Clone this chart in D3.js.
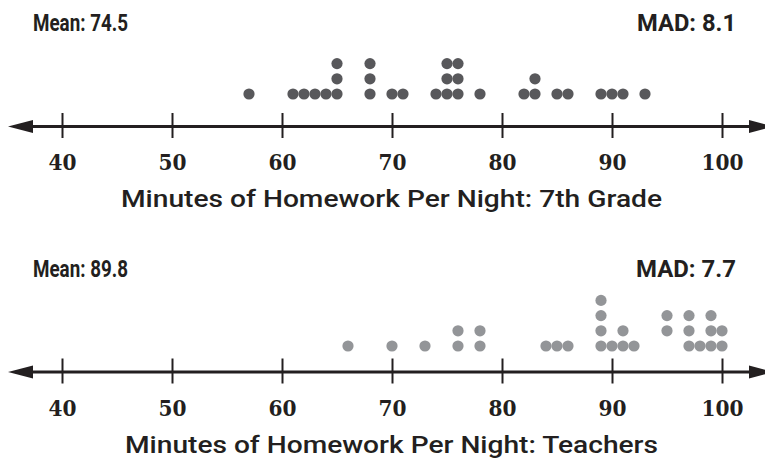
<!DOCTYPE html>
<html>
<head>
<meta charset="utf-8">
<script src="https://cdn.jsdelivr.net/npm/d3@7/dist/d3.min.js"></script>
<style>
  html, body { margin: 0; padding: 0; background: #ffffff; }
  svg { display: block; }
</style>
</head>
<body>
<script>
// Minutes of homework per night, one dot per person
const grade7Minutes = [57, 61, 62, 63, 64, 65, 65, 65, 68, 68, 68, 70, 71, 74, 75, 75, 75,
  76, 76, 76, 78, 82, 83, 83, 85, 86, 89, 90, 91, 93];
const teacherMinutes = [66, 70, 73, 76, 76, 78, 78, 84, 85, 86, 89, 89, 89, 89, 90, 91, 91, 92,
  95, 95, 97, 97, 97, 98, 99, 99, 99, 100, 100];
// columns whose stack starts one slot above the line
const teacherLifted = [95];

const axisTicks = [40, 50, 60, 70, 80, 90, 100];
const panelTitles = ["Minutes of Homework Per Night: 7th Grade", "Minutes of Homework Per Night: Teachers"];
const meanLabels = ["74.5", "89.8"];
const madLabels = ["8.1", "7.7"];

const W = 765, H = 469;
const ink = "#231f20";
const sansFont = "Roboto, 'Liberation Sans', sans-serif";
const serifFont = "'DejaVu Serif', 'Liberation Serif', serif";

const svg = d3.select("body").append("svg")
  .attr("width", W).attr("height", H)
  .attr("viewBox", `0 0 ${W} ${H}`);

const x = d3.scaleLinear().domain([40, 100]).range([62, 722]);

const panels = [
  { values: grade7Minutes, lifted: [], color: "#58585b", top: 0, dotBase: 94 },
  { values: teacherMinutes, lifted: teacherLifted, color: "#939598", top: 245.5, dotBase: 100.5 }
];

function stackDots(values, lifted) {
  const seen = new Map();
  return values.map(v => {
    const start = lifted.includes(v) ? 1 : 0;
    const k = seen.has(v) ? seen.get(v) : start;
    seen.set(v, k + 1);
    return { value: v, level: k };
  });
}

function header(g, xPos, anchor, label, width) {
  g.append("text").attr("x", xPos).attr("y", 31)
    .attr("text-anchor", anchor)
    .attr("fill", ink)
    .attr("font-family", sansFont).attr("font-weight", 700).attr("font-size", 24)
    .attr("textLength", width).attr("lengthAdjust", "spacingAndGlyphs")
    .text(label);
}

panels.forEach((p, i) => {
  const g = svg.append("g").attr("transform", `translate(0,${p.top})`);

  // header: mean on the left, MAD on the right
  header(g, 33, "start", `Mean: ${meanLabels[i]}`, 95);
  header(g, 736, "end", `MAD: ${madLabels[i]}`, i === 0 ? 99 : 100);

  // dots
  const rowGap = 15.2;
  g.append("g").selectAll("circle")
    .data(stackDots(p.values, p.lifted))
    .join("circle")
    .attr("cx", d => x(d.value))
    .attr("cy", d => p.dotBase - d.level * rowGap)
    .attr("r", 5.6)
    .attr("fill", p.color);

  // number line with arrowheads
  const lineY = 126.5;
  g.append("line")
    .attr("x1", 20).attr("x2", W + 10)
    .attr("y1", lineY).attr("y2", lineY)
    .attr("stroke", ink).attr("stroke-width", 2.8);
  g.append("path")
    .attr("d", `M8,${lineY} L33,${lineY - 6.5} L33,${lineY + 6.5} Z`)
    .attr("fill", ink);
  g.append("path")
    .attr("d", `M774,${lineY} L749,${lineY - 6.5} L749,${lineY + 6.5} Z`)
    .attr("fill", ink);

  const axis = g.append("g")
    .attr("transform", `translate(0,113)`)
    .call(d3.axisBottom(x).tickValues(axisTicks).tickSize(25).tickFormat(d3.format("d")));
  axis.select(".domain").remove();
  axis.selectAll(".tick line").attr("stroke", ink).attr("stroke-width", 2);
  axis.selectAll(".tick text")
    .attr("y", 57).attr("dy", null)
    .attr("font-family", serifFont).attr("font-weight", 700).attr("font-size", 22)
    .attr("fill", ink)
    .attr("textLength", d => String(d).length * 14)
    .attr("lengthAdjust", "spacingAndGlyphs");

  // axis title
  g.append("text").attr("x", 391.5).attr("y", 207)
    .attr("text-anchor", "middle")
    .attr("font-family", sansFont).attr("font-weight", 500).attr("font-size", 24)
    .attr("fill", ink)
    .attr("textLength", i === 0 ? 541 : 533).attr("lengthAdjust", "spacingAndGlyphs")
    .text(panelTitles[i]);
});
</script>
</body>
</html>
